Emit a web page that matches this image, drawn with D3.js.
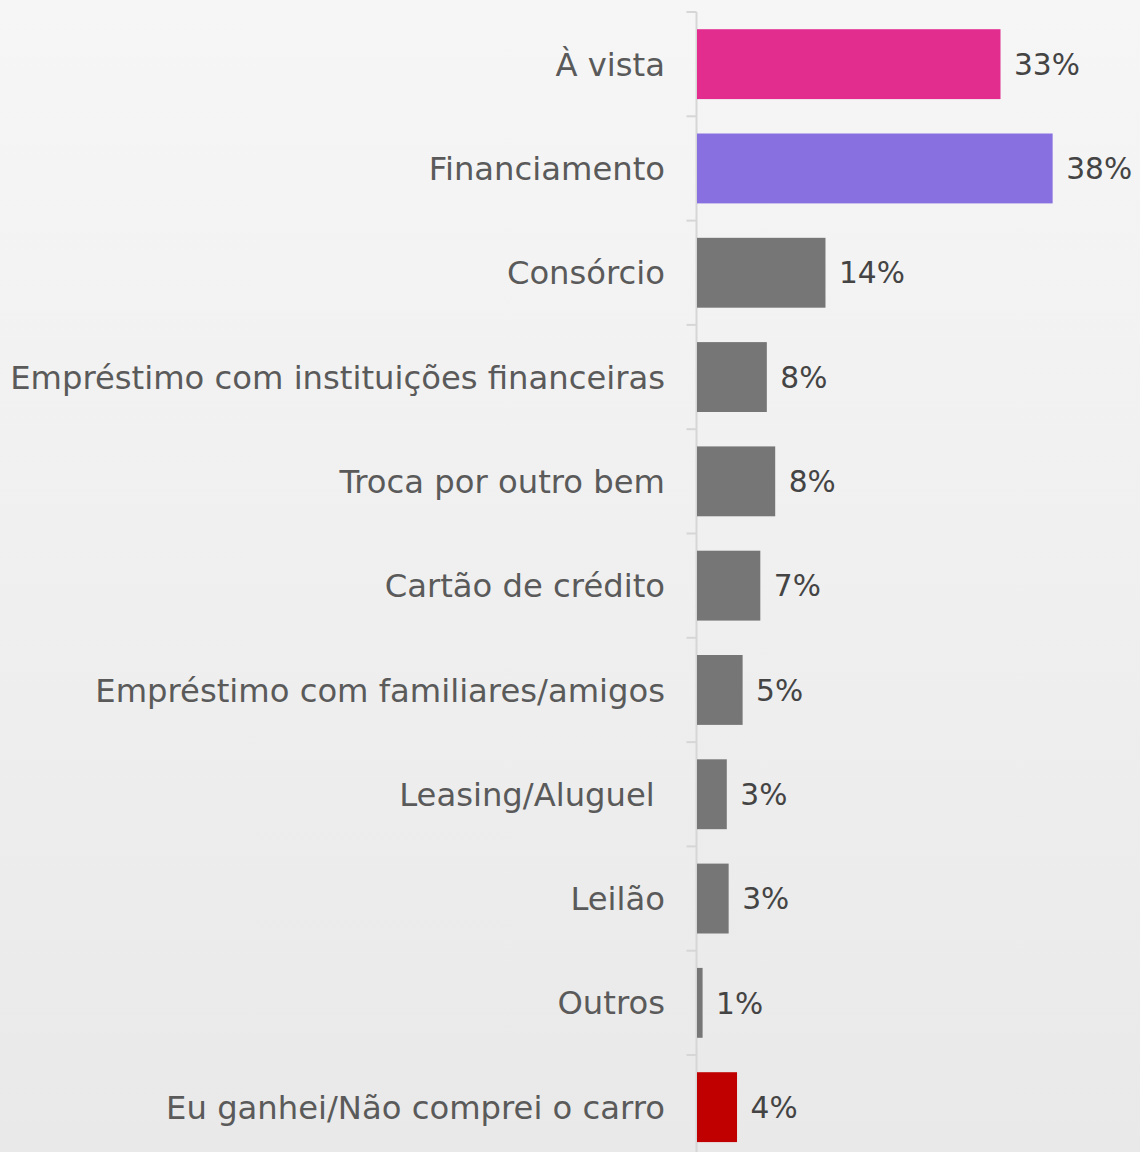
<!DOCTYPE html>
<html><head><meta charset="utf-8">
<script src="https://cdn.jsdelivr.net/npm/d3@7"></script>
<style>
html,body{margin:0;padding:0;}
body{width:1140px;height:1152px;overflow:hidden;background:#f0f0f0;}
svg{display:block;}
</style></head>
<body>
<svg id="chart" width="1140" height="1152"></svg>
<script>
const categories = [
  "À vista",
  "Financiamento",
  "Consórcio",
  "Empréstimo com instituições financeiras",
  "Troca por outro bem",
  "Cartão de crédito",
  "Empréstimo com familiares/amigos",
  "Leasing/Aluguel ",
  "Leilão",
  "Outros",
  "Eu ganhei/Não comprei o carro"
];
const values = [32.6, 38.2, 13.8, 7.5, 8.4, 6.8, 4.9, 3.2, 3.4, 0.6, 4.3];
const valueLabels = ["33%", "38%", "14%", "8%", "8%", "7%", "5%", "3%", "3%", "1%", "4%"];
const barColors = ["#e22d8f", "#8870e0", "#767676", "#767676", "#767676", "#767676", "#767676", "#767676", "#767676", "#767676", "#c00000"];

(function () {
const svg = d3.select("#chart");
const W = 1140, H = 1152;

const defs = svg.append("defs");
const grad = defs.append("linearGradient").attr("id", "bg").attr("x1", 0).attr("y1", 0).attr("x2", 0).attr("y2", 1);
grad.append("stop").attr("offset", "0%").attr("stop-color", "#f6f6f6");
grad.append("stop").attr("offset", "100%").attr("stop-color", "#e9e9e9");
svg.append("rect").attr("width", W).attr("height", H).attr("fill", "url(#bg)");

const axisX = 696.5;
const step = 104.3;
const y0 = 12;
const y = d3.scaleBand().domain(categories)
  .range([y0, y0 + step * categories.length])
  .paddingInner(0.33).paddingOuter(0.165);
const x = d3.scaleLinear().domain([0, 40]).range([axisX, axisX + 40 * 9.31]);

// axis
const axisG = svg.append("g").attr("transform", `translate(${axisX},0)`);
const yAxis = d3.axisLeft(y).tickSize(0).tickFormat("");
axisG.call(yAxis);
axisG.select(".domain").attr("stroke", "#d6d6d6").attr("stroke-width", 2)
  .attr("d", `M0,${y0}V${H + 20}`);
const bounds = d3.range(categories.length + 1).map(i => y0 + i * step);
axisG.selectAll("line.bt").data(bounds).enter().append("line")
  .attr("class", "bt")
  .attr("x1", -10).attr("x2", 0)
  .attr("y1", d => d).attr("y2", d => d)
  .attr("stroke", "#d6d6d6").attr("stroke-width", 2);

// bars
svg.append("g").selectAll("rect").data(values).enter().append("rect")
  .attr("x", x(0) + 0.5)
  .attr("y", (d, i) => y(categories[i]))
  .attr("width", d => x(d) - x(0))
  .attr("height", y.bandwidth())
  .attr("fill", (d, i) => barColors[i]);

const fontFam = "'DejaVu Sans', sans-serif";
const labels = svg.append("g").selectAll("text").data(categories).enter().append("text")
  .attr("x", 665)
  .attr("y", d => y(d) + y.bandwidth() / 2)
  .attr("dy", "0.36em")
  .attr("text-anchor", "end")
  .style("white-space", "pre")
  .attr("font-family", fontFam)
  .attr("font-size", 28)
  .attr("fill", "#5a5a5a")
  .text(d => d);

const longest = labels.filter((d, i) => i === 3).node();
const w = longest.getComputedTextLength();
const fs = 28 * 655 / w;
labels.attr("font-size", fs);

svg.append("g").selectAll("text").data(values).enter().append("text")
  .attr("x", d => x(d) + 14)
  .attr("y", (d, i) => y(categories[i]) + y.bandwidth() / 2)
  .attr("dy", "0.36em")
  .attr("font-family", fontFam)
  .attr("font-size", fs * 0.92)
  .attr("fill", "#444444")
  .text((d, i) => valueLabels[i]);
})();
</script>
</body></html>
